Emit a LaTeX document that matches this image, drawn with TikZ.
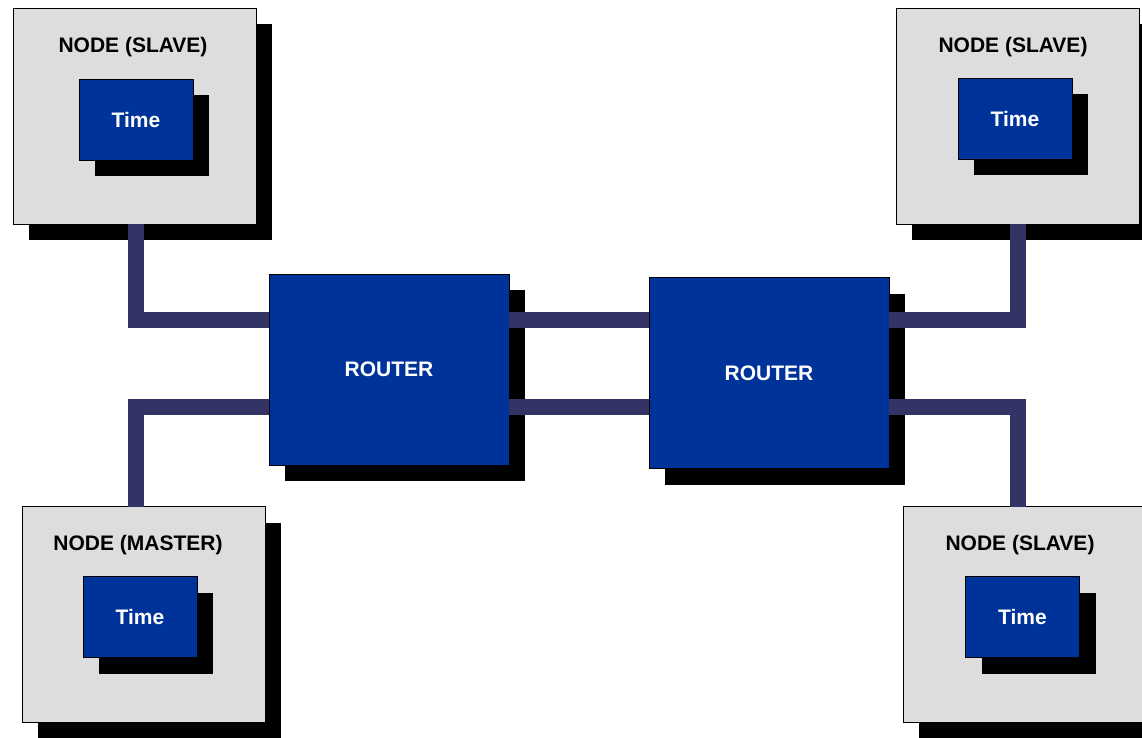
\documentclass[tikz,border=0pt]{standalone}
\usepackage{fontspec}
\setmainfont{Liberation Sans}
\usetikzlibrary{shadows}
\definecolor{nodegray}{HTML}{DDDDDD}
\definecolor{routerblue}{HTML}{003399}
\definecolor{linkcol}{HTML}{333366}
\begin{document}
\begin{tikzpicture}[x=1pt,y=-1pt,
  lbl/.style={font=\fontsize{21}{25}\selectfont\bfseries, inner sep=0pt},
  shadowed/.style={drop shadow={shadow xshift=16pt,shadow yshift=-16pt,fill=black,opacity=1}},
  hostbox/.style={draw=black, line width=1pt, fill=nodegray, minimum width=243pt, minimum height=216pt, inner sep=0pt, outer sep=0pt, shadowed},
  timebox/.style={draw=black, line width=1pt, fill=routerblue, minimum width=114pt, minimum height=81pt, text=white, lbl, outer sep=0pt, shadowed},
  routerbox/.style={draw=black, line width=1pt, fill=routerblue, minimum width=240pt, minimum height=191pt, text=white, lbl, outer sep=0pt, shadowed},
  title/.style={lbl, anchor=base, text=black},
  link/.style={draw=linkcol, line width=16pt}
]
\useasboundingbox (0,0) rectangle (1142,737);
\clip (0,0) rectangle (1142,737);

% host nodes
\node[hostbox] (tl) at (134.5,116) {};
\node[title] (tlt) at (133,52.7) {NODE (SLAVE)};
\node[timebox] (tltime) at (136,119.5) {Time};

\node[hostbox] (tr) at (1017.5,116) {};
\node[title] (trt) at (1013,52.7) {NODE (SLAVE)};
\node[timebox] (trtime) at (1015,118.5) {Time};

\node[hostbox] (bl) at (143.5,614.5) {};
\node[title] (blt) at (138,550.7) {NODE (MASTER)};
\node[timebox] (bltime) at (140,617) {Time};

\node[hostbox] (br) at (1024.5,614.5) {};
\node[title] (brt) at (1020,550.7) {NODE (SLAVE)};
\node[timebox] (brtime) at (1022.5,617) {Time};

% routers
\node[routerbox] (r1) at (389,369.5) {ROUTER};
\node[routerbox] (r2) at (769,373) {ROUTER};

% helper coordinates
\coordinate (xl) at (136,0);
\coordinate (xr) at (1018,0);
\coordinate (yt) at (0,320);
\coordinate (yb) at (0,407);

% links
\draw[link] (tl.south -| xl) |- (r1.west |- yt);
\draw[link] (bl.north -| xl) |- (r1.west |- yb);
\draw[link] (r1.east |- yt) -- (r2.west |- yt);
\draw[link] (r1.east |- yb) -- (r2.west |- yb);
\draw[link] (r2.east |- yt) -| (tr.south -| xr);
\draw[link] (r2.east |- yb) -| (br.north -| xr);
\end{tikzpicture}
\end{document}
